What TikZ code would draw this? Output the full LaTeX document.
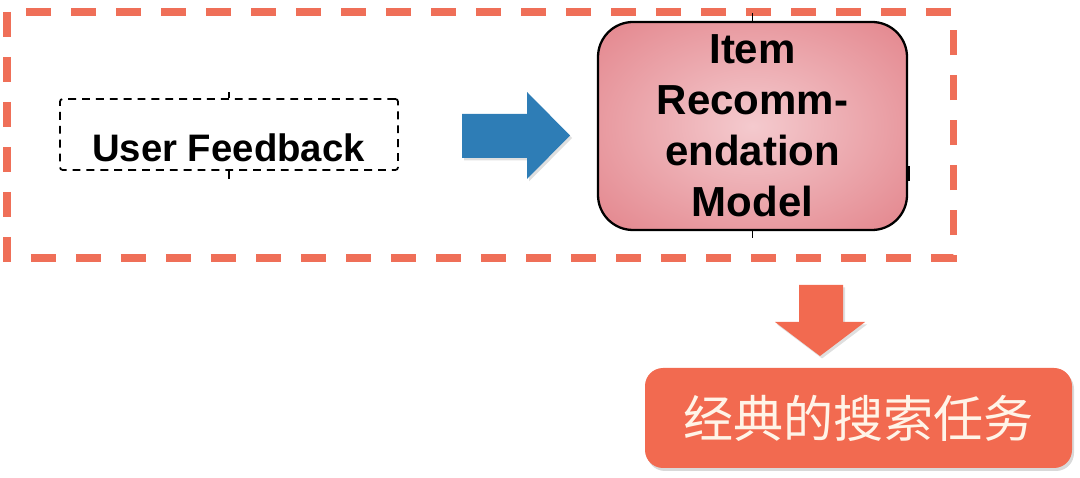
\documentclass[tikz,border=0pt]{standalone}
\usepackage{fontspec}
\setmainfont{Liberation Sans}
\newfontfamily\cjk{Noto Sans CJK SC}
\usetikzlibrary{calc,shadows}
\definecolor{frameorange}{HTML}{EF6F58}
\definecolor{taskorange}{HTML}{F26A50}
\definecolor{arrowblue}{HTML}{2E7DB6}
\definecolor{modelpink}{HTML}{F4CACE}
\definecolor{modelred}{HTML}{DE7078}
\definecolor{taskcream}{HTML}{FFF4E8}

\begin{document}
\begin{tikzpicture}[
    outerframe/.style={draw=frameorange,line width=4pt,dash pattern=on 0.5cm off 0.4cm},
    feedbackbox/.style={draw,line width=1pt,dash pattern=on 4.5pt off 3.4pt,rounded corners=1.5pt,
        minimum width=6.76cm,minimum height=1.42cm,inner sep=0pt},
    modelbox/.style={draw,line width=1.3pt,rounded corners=0.7cm,
        path picture={\shade[inner color=modelpink,outer color=modelred]
            (path picture bounding box.center) ellipse (5.7cm and 3.9cm);},
        minimum width=6.18cm,minimum height=4.16cm,
        align=center,font=\fontsize{23.9}{29}\selectfont\bfseries},
    taskbox/.style={fill=taskorange,rounded corners=0.36cm,minimum width=8.54cm,minimum height=2cm,
        text=taskcream,font=\fontsize{28.5}{30}\cjk,
        drop shadow={opacity=0.3,shadow xshift=0.04cm,shadow yshift=-0.06cm}},
    blockarrow/.style={drop shadow={opacity=0.25,shadow xshift=0.04cm,shadow yshift=-0.05cm}},
    stub/.style={line width=1pt}]
    % canvas: 1080 x 478 px at 50 px per cm
    \useasboundingbox (0,0) rectangle (21.6,9.56);
    % outer dashed frame round the input and the model
    \draw[outerframe] (0.14,9.32) rectangle (19.06,4.4);
    % boxes
    \node[feedbackbox] (fb) at (4.58,6.87) {};
    \node[anchor=base,font=\fontsize{21.8}{26}\selectfont\bfseries] (fbtext) at (4.57,6.32) {User Feedback};
    \node[modelbox] (model) at (15.05,7.04) {Item\\Recomm-\\endation\\Model};
    \node[taskbox] (task) at (17.17,1.2) {经典的搜索任务};
    % little anchor stubs left on the boxes
    \draw[stub] (fb.north) -- ++(0,0.12);
    \draw[stub] (fb.south) -- ++(0,-0.16);
    \draw[stub] (model.north) -- ++(0,0.16);
    \draw[stub] (model.south) -- ++(0,-0.14);
    \draw[line width=2pt] ($(model.east)+(0,-0.8)$) -- ++(0,-0.3);
    % block arrow from the feedback to the model
    \coordinate (b1) at (9.24,7.28);
    \coordinate (b2) at (10.54,7.28);
    \coordinate (b3) at (10.54,7.72);
    \coordinate (btip) at (11.4,6.85);
    \coordinate (b4) at (10.54,5.98);
    \coordinate (b5) at (10.54,6.4);
    \coordinate (b6) at (9.24,6.4);
    \fill[arrowblue,blockarrow] (b1) -- (b2) -- (b3) -- (btip) -- (b4) -- (b5) -- (b6) -- cycle;
    % block arrow from the frame down to the task
    \coordinate (d1) at (15.98,3.86);
    \coordinate (d2) at (16.86,3.86);
    \coordinate (d3) at (16.86,3.12);
    \coordinate (d4) at (17.3,3.12);
    \coordinate (dtip) at (16.4,2.44);
    \coordinate (d5) at (15.5,3.12);
    \coordinate (d6) at (15.98,3.12);
    \fill[taskorange,blockarrow] (d1) -- (d2) -- (d3) -- (d4) -- (dtip) -- (d5) -- (d6) -- cycle;
\end{tikzpicture}
\end{document}
